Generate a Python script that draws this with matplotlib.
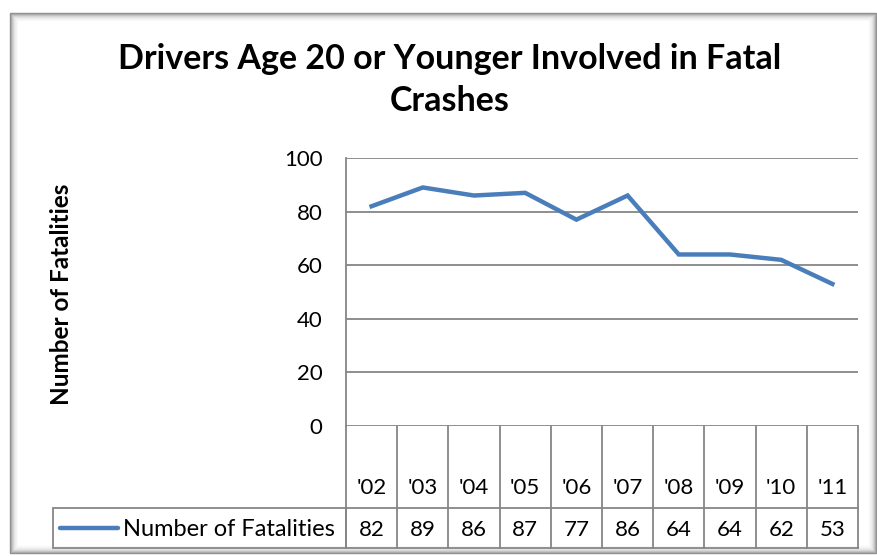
import matplotlib
matplotlib.use("Agg")
import matplotlib.pyplot as plt
from matplotlib.patches import Rectangle
from matplotlib import transforms

years = ["'02", "'03", "'04", "'05", "'06", "'07", "'08", "'09", "'10", "'11"]
fatalities = [82, 89, 86, 87, 77, 86, 64, 64, 62, 53]
series_name = "Number of Fatalities"
title = "Drivers Age 20 or Younger Involved in Fatal\nCrashes"
y_ticks = [0, 20, 40, 60, 80, 100]

W, H = 878, 556
plt.rcParams['font.family'] = ['Lato', 'DejaVu Sans']
fig = plt.figure(figsize=(W / 100, H / 100), dpi=100)
fig.patch.set_facecolor('white')

# Overlay axes in pixel coordinates for frame
bg = fig.add_axes([0, 0, 1, 1], zorder=0)
bg.set_xlim(0, W)
bg.set_ylim(H, 0)
bg.axis('off')
grays = ['#8c8c8c', '#a8a8a8', '#c0c0c0', '#d4d4d4', '#e2e2e2', '#ececec', '#f3f3f3', '#f8f8f8']
for k, g in enumerate(grays):
    bg.add_patch(Rectangle((10 + k, 13 + k), 866 - 2 * k, 540 - 2 * k,
                           fill=False, edgecolor=g, lw=1.0))
bg.add_patch(Rectangle((18, 21), 850, 524, facecolor='white', edgecolor='none'))

# Plot axes
L, R, T, B = 346, 858, 158, 426
ax = fig.add_axes([L / W, (H - B) / H, (R - L) / W, (B - T) / H], zorder=2)
ax.set_facecolor('none')
n = len(years)
x = [i + 0.5 for i in range(n)]
ax.plot(x, fatalities, color='#4a7ebb', lw=3.2, solid_joinstyle='miter', zorder=3)
ax.set_xlim(0, n)
ax.set_ylim(0, 100)
ax.set_yticks(y_ticks)
ax.set_yticklabels([str(t) for t in y_ticks], fontsize=16)
ax.tick_params(axis='y', length=0, pad=17)
ax.set_xticks([])
for s in ['top', 'right', 'bottom']:
    ax.spines[s].set_visible(False)
ax.spines['left'].set_color('#868686')
ax.spines['left'].set_linewidth(1.3)
for t in y_ticks:
    ax.axhline(t, color='#868686', lw=1.3, zorder=1)

# Data table
tr = transforms.blended_transform_factory(ax.transData, ax.transAxes)
row1 = (B - 508) / (B - T)
row2 = (B - 548) / (B - T)
lc = '#868686'
for i in range(n + 1):
    ax.plot([i, i], [0, row2], transform=tr, color=lc, lw=1.3, clip_on=False)
ax.plot([0, n], [row1, row1], transform=tr, color=lc, lw=1.3, clip_on=False)
ax.plot([0, n], [row2, row2], transform=tr, color=lc, lw=1.3, clip_on=False)
for i in range(n):
    ax.text(x[i], (B - 488) / (B - T), years[i], transform=tr, ha='center', va='center', fontsize=16)
    ax.text(x[i], (B - 530) / (B - T), str(fatalities[i]), transform=tr, ha='center', va='center', fontsize=16)

# legend cell
bg.add_patch(Rectangle((53, 508), L - 53, 40, fill=False, edgecolor=lc, lw=1.3, zorder=3))
bg.plot([60, 118], [528, 528], color='#4a7ebb', lw=3.2, solid_capstyle='round', zorder=4)
bg.text(123, 530, series_name, ha='left', va='center', fontsize=17, zorder=4)

# title and y label
fig.text(450 / W, 1 - 80 / H, title, ha='center', va='center', fontsize=24.5,
         fontweight='bold', linespacing=1.38)
fig.text(62 / W, 1 - 294 / H, "Number of Fatalities", rotation=90, ha='center', va='center',
         fontsize=17.5, fontweight='bold')

fig.savefig('out.png', dpi=100)
